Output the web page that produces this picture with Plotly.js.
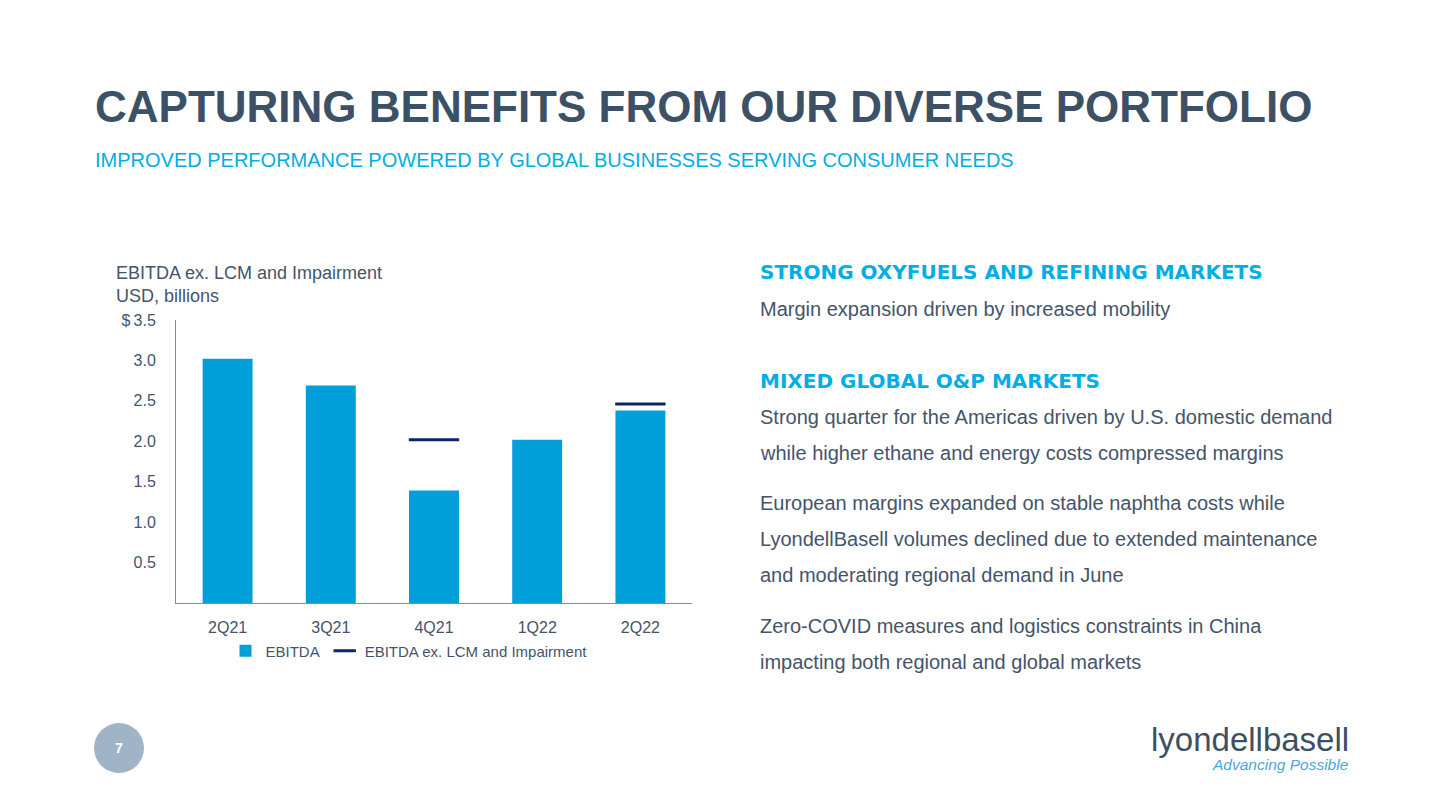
<!DOCTYPE html>
<html>
<head>
<meta charset="utf-8">
<script src="https://cdn.plot.ly/plotly-3.0.1.min.js"></script>
<style>
  html, body { margin: 0; padding: 0; background: #ffffff; }
  #chart { width: 1440px; height: 810px; }
</style>
</head>
<body>
<div id="chart"></div>
<script>
// ---- data ----
const quarters = ["2Q21", "3Q21", "4Q21", "1Q22", "2Q22"];
const ebitda = [3.02, 2.69, 1.39, 2.02, 2.38];
const ebitdaExLcm = [null, null, 2.02, null, 2.46];
const yTickVals = [0.5, 1.0, 1.5, 2.0, 2.5, 3.0, 3.5];
const yTickText = ["0.5", "1.0", "1.5", "2.0", "2.5", "3.0", "$\u20093.5"];

// ---- styles ----
const slate = "#3d5166";
const bodyGray = "#44546a";
const lightBlue = "#00aee6";
const barBlue = "#009fda";
const navy = "#0b2566";
const FONT = "Liberation Sans, Arial, sans-serif";
const HEAD_FONT = "DejaVu Sans, sans-serif";

const traces = [
  {
    type: "bar",
    name: "EBITDA",
    x: quarters,
    y: ebitda,
    marker: { color: barBlue },
    hoverinfo: "x+y"
  },
  {
    type: "scatter",
    mode: "markers",
    name: "EBITDA ex. LCM and Impairment",
    x: quarters,
    y: ebitdaExLcm,
    marker: { symbol: "line-ew-open", size: 36, color: navy, line: { color: navy, width: 3 } },
    hoverinfo: "x+y"
  }
];

function ann(text, x, y, size, color, opts) {
  return Object.assign({
    text: text, x: x, y: y, xref: "paper", yref: "paper",
    xanchor: "left", yanchor: "middle", showarrow: false,
    font: { family: FONT, size: size, color: color }
  }, opts || {});
}
const px = v => v / 1440;
const py = v => 1 - v / 810;
const headFont = { family: HEAD_FONT, size: 20, color: lightBlue };

const annotations = [
  ann("<b>CAPTURING BENEFITS FROM OUR DIVERSE PORTFOLIO</b>", px(93), py(107), 44, slate),
  ann("IMPROVED PERFORMANCE POWERED BY GLOBAL BUSINESSES SERVING CONSUMER NEEDS", px(93), py(160), 20, lightBlue),
  ann("EBITDA ex. LCM and Impairment<br>USD, billions", px(114), py(284), 18, bodyGray, { align: "left" }),

  ann("<b>STRONG OXYFUELS AND REFINING MARKETS</b>", px(758), py(272), 20, lightBlue, { font: headFont }),
  ann("Margin expansion driven by increased mobility", px(758), py(309), 20, bodyGray),
  ann("<b>MIXED GLOBAL O&amp;P MARKETS</b>", px(758), py(381), 20, lightBlue, { font: headFont }),
  ann("Strong quarter for the Americas driven by U.S. domestic demand", px(758), py(417), 20, bodyGray),
  ann("while higher ethane and energy costs compressed margins", px(758), py(453), 20, bodyGray),
  ann("European margins expanded on stable naphtha costs while", px(758), py(503), 20, bodyGray),
  ann("LyondellBasell volumes declined due to extended maintenance", px(758), py(539), 20, bodyGray),
  ann("and moderating regional demand in June", px(758), py(575), 20, bodyGray),
  ann("Zero-COVID measures and logistics constraints in China", px(758), py(626), 20, bodyGray),
  ann("impacting both regional and global markets", px(758), py(662), 20, bodyGray),

  ann("<b>7</b>", px(119), py(748), 14, "#ffffff", { xanchor: "center" }),
  ann("lyondellbasell", px(1351), py(739), 33, "#3d4f63", { xanchor: "right" }),
  ann("<i>Advancing Possible</i>", px(1351), py(764), 15.5, "#4aa6e0", { xanchor: "right" })
];

const layout = {
  width: 1440,
  height: 810,
  margin: { l: 0, r: 0, t: 0, b: 0 },
  paper_bgcolor: "#ffffff",
  plot_bgcolor: "#ffffff",
  font: { family: FONT, color: bodyGray },
  showlegend: true,
  legend: {
    orientation: "h",
    x: px(409), xanchor: "center",
    y: py(651), yanchor: "middle",
    font: { family: FONT, size: 15, color: bodyGray },
    itemwidth: 30,
    bgcolor: "rgba(0,0,0,0)"
  },
  bargap: 0.516,
  xaxis: {
    domain: [px(176), px(692)],
    type: "category",
    range: [-0.5, 4.5],
    showline: true,
    linecolor: "#8c8c8c",
    linewidth: 1,
    showgrid: false,
    zeroline: false,
    ticks: "outside",
    ticklen: 10,
    tickcolor: "rgba(0,0,0,0)",
    tickfont: { family: FONT, size: 16, color: bodyGray }
  },
  yaxis: {
    domain: [1 - 603 / 810, 1 - 320 / 810],
    range: [0, 3.5],
    tickvals: yTickVals,
    ticktext: yTickText,
    showline: true,
    linecolor: "#8c8c8c",
    linewidth: 1,
    showgrid: false,
    zeroline: false,
    ticks: "outside",
    ticklen: 16,
    tickcolor: "rgba(0,0,0,0)",
    tickfont: { family: FONT, size: 16, color: bodyGray }
  },
  shapes: [
    { type: "circle", xref: "paper", yref: "paper",
      x0: px(94), x1: px(144), y0: py(773), y1: py(723),
      fillcolor: "#9fb4c7", line: { width: 0 } }
  ],
  annotations: annotations
};

Plotly.newPlot("chart", traces, layout, { displayModeBar: false, staticPlot: true });
</script>
</body>
</html>
